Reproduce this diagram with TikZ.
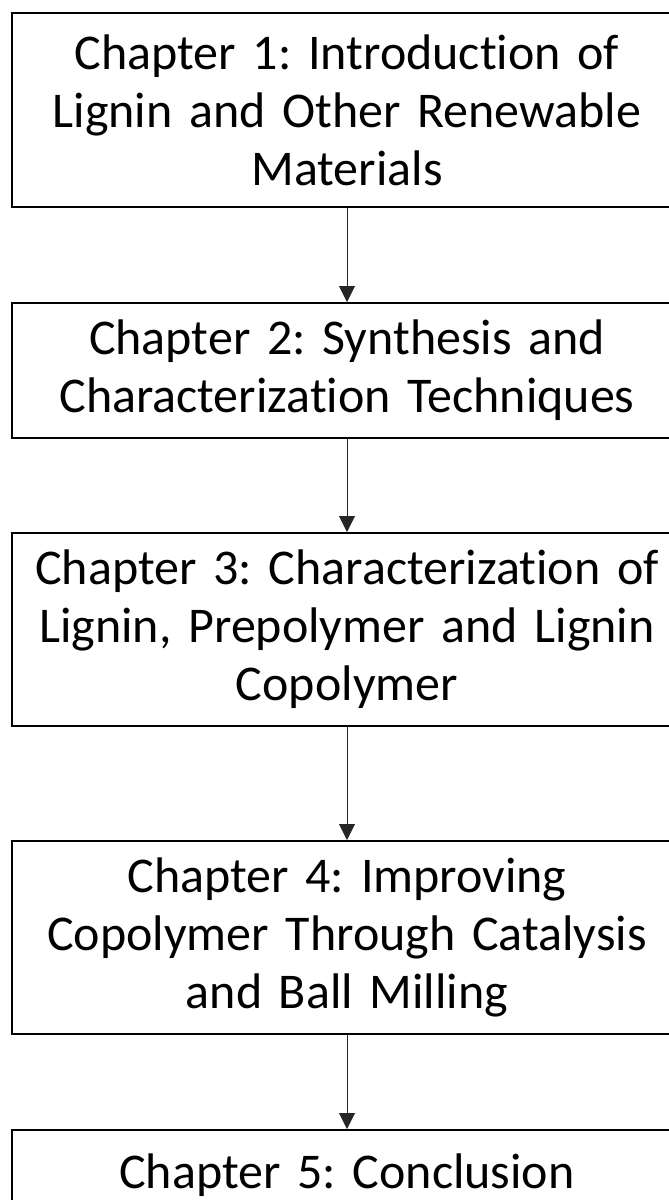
\documentclass[tikz,border=0pt]{standalone}
\usepackage{fontspec}
\setmainfont{Carlito}[Ligatures=NoCommon]
\usetikzlibrary{arrows.meta}
\begin{document}
\frenchspacing
\begin{tikzpicture}[
    x=0.5pt, y=-0.5pt,
    font=\fontsize{25pt}{29pt}\selectfont,
    chapter/.style={draw=black, line width=1pt, rectangle, align=center,
        text width=333pt, minimum width=335pt, inner sep=0pt},
    flow/.style={-{Triangle[length=8pt, width=8pt]}, line width=0.5pt, draw=black!85}
]
\useasboundingbox (0,0) rectangle (669,1200);
\clip (0,0) rectangle (669,1200);
\foreach \n/\yy/\hh/\chaptext in {
  1/110/97pt/{Chapter 1: Introduction of\\Lignin and Other Renewable\\Materials},
  2/370.5/67.5pt/{Chapter 2: Synthesis and\\Characterization Techniques},
  3/629.5/96.5pt/{Chapter 3: Characterization of\\Lignin, Prepolymer and Lignin\\Copolymer},
  4/937.5/96.5pt/{Chapter 4: Improving\\Copolymer Through Catalysis\\and Ball Milling}}{
    \node[chapter, minimum height=\hh] (ch\n) at (347,\yy) {\chaptext};
}
\node[chapter, anchor=north, text height=29pt, text depth=40pt] (ch5) at (347,1129) {Chapter 5: Conclusion};
\foreach \a/\b in {1/2, 2/3, 3/4, 4/5}{
    \draw[flow] (ch\a) -- (ch\b);
}
\end{tikzpicture}
\end{document}
